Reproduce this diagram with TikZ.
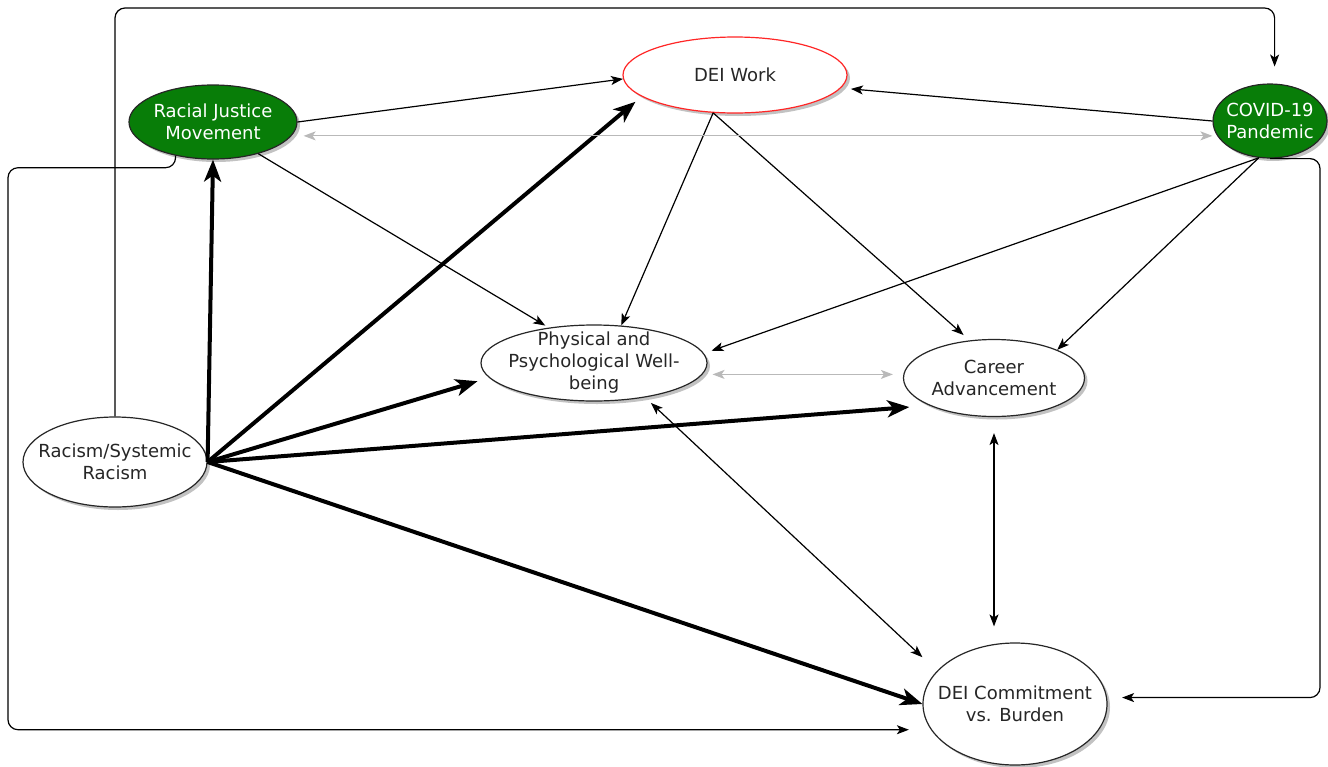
\documentclass[tikz,border=0pt]{standalone}
\usepackage{fontspec}
\setmainfont{DejaVu Sans}
\usepackage{xcolor}
\usepackage{tikz}
\usetikzlibrary{shapes.geometric,arrows.meta,positioning,shadows}
\definecolor{movegreen}{RGB}{8,125,8}
\tikzstyle{concept} = [ellipse, draw=black!85, fill=white, line width=0.6pt, inner sep=0pt, drop shadow={shadow xshift=1.5pt, shadow yshift=-1.5pt, fill=black!40, opacity=0.6}]
\tikzstyle{context} = [concept, fill=movegreen]
\tikzstyle{focus} = [concept, draw=red!85]
\tikzstyle{txt} = [align=center, font=\fontsize{9}{11}\selectfont, text=black!85]
\tikzstyle{txtw} = [txt, text=white]
\tikzstyle{link} = [-{Stealth[length=6pt, width=4.5pt, inset=1.5pt]}, line width=0.6pt]
\tikzstyle{strong} = [-{Stealth[length=11pt, width=8.5pt, inset=3pt]}, line width=2pt]
\tikzstyle{mutual} = [{Stealth[length=6pt, width=4.5pt, inset=1.5pt]}-{Stealth[length=6pt, width=4.5pt, inset=1.5pt]}, line width=0.6pt]
\tikzstyle{faint} = [mutual, draw=gray!55]
\tikzstyle{rail} = [link, rounded corners=5pt]

\begin{document}
\begin{tikzpicture}[x=0.5pt, y=-0.5pt]
    \useasboundingbox (0,0) rectangle (1328,766);
    \coordinate (toprail) at (0,8);
    \coordinate (leftrail) at (8,0);
    \coordinate (rightrail) at (1320,0);
    % outside forces
    \node[context, minimum width=84pt, minimum height=37pt, label={[txtw]center:Racial Justice\\Movement}] (rjm) at (213,122) {};
    \node[context, minimum width=57pt, minimum height=37pt, label={[txtw]center:COVID-19\\Pandemic}] (covid) at (1270,121) {};
    \node[concept, minimum width=92pt, minimum height=45pt, label={[txt]center:Racism/Systemic\\Racism}] (racism) at (115,462) {};
    % outcomes
    \node[focus, minimum width=112pt, minimum height=38pt, label={[txt]center:DEI Work}] (dei) at (735,75) {};
    \node[concept, minimum width=113pt, minimum height=38pt, label={[txt]center:Physical and\\Psychological Well-\\being}] (well) at (594,363) {};
    \node[concept, minimum width=90.5pt, minimum height=38.5pt, label={[txt]center:Career\\Advancement}] (career) at (994,378) {};
    \node[concept, minimum width=92pt, minimum height=61pt, label={[txt]center:DEI Commitment\\vs. Burden}] (commit) at (1015,704) {};
    % racism fans out
    \draw[strong] (racism.east) -- (rjm.south);
    \draw[strong, shorten >=4pt] (racism.east) -- (dei.193);
    \draw[strong, shorten >=6pt] (racism.east) -- (well.188);
    \draw[strong, shorten >=10pt] (racism.east) -- (career.203);
    \draw[strong] (racism.east) -- (commit.west);
    % single links
    \draw[link] (rjm.east) -- (dei.182);
    \draw[link, shorten >=5pt] (covid.west) -- (dei.353);
    \draw[link, shorten >=2pt] (rjm.325) -- (well.142);
    \draw[link] (dei.240) -- (well.54);
    \draw[link, shorten >=4pt] (dei.240) -- (career.123);
    \draw[link, shorten >=4pt] (covid.253) -- (well.5);
    \draw[link] (covid.253) -- (career.24);
    % two-way links
    \draw[faint, shorten <=6pt] (rjm.350) -- (rjm.350 -| covid.west);
    \draw[faint, shorten <=5pt, shorten >=5pt] (well.354) -- (well.354 -| career.west);
    \draw[mutual, shorten <=4pt, shorten >=10pt] (well.326) -- (commit.157);
    \draw[mutual, shorten <=8pt, shorten >=8pt] (career.south) -- (career.south |- commit.north);
    % routed round the edge
    \draw[rail, shorten >=8.5pt] (racism.north) |- (covid.83 |- toprail) -- (covid.83);
    \draw[rail, shorten >=11pt] (rjm.222) -- ++(0,12) -| (leftrail |- commit.197) -- (commit.197);
    \draw[rail, shorten >=7.5pt] (covid.south) -- (rightrail |- covid.south) -- (rightrail |- commit.4) -- (commit.4);
\end{tikzpicture}
\end{document}
